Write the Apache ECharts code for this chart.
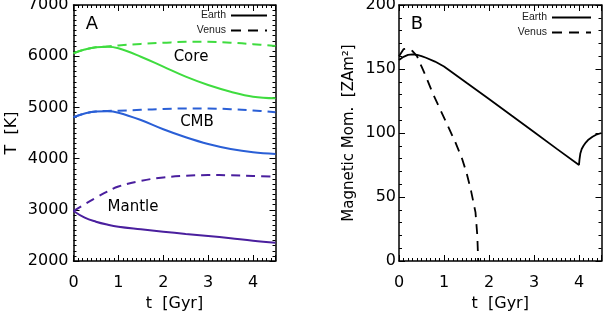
<!DOCTYPE html>
<html><head><meta charset="utf-8">
<script src="https://cdn.jsdelivr.net/npm/echarts@6/dist/echarts.min.js"></script>
<style>html,body{margin:0;padding:0;background:#fff}#c{width:603px;height:311px}</style>
</head><body><div id="c"></div>
<script>
// Panel A: temperatures [K] vs time [Gyr]
const tA          = [0, 0.25, 0.5, 0.75, 1, 1.5, 2, 2.5, 3, 3.5, 4, 4.5];
const coreEarth   = [6057, 6130, 6175, 6183, 6154, 5990, 5795, 5600, 5437, 5307, 5209, 5178];
const coreVenus   = [6057, 6130, 6175, 6190, 6210, 6240, 6262, 6280, 6280, 6265, 6235, 6200];
const cmbEarth    = [4807, 4880, 4920, 4925, 4897, 4754, 4573, 4417, 4285, 4188, 4123, 4090];
const cmbVenus    = [4807, 4880, 4920, 4930, 4935, 4952, 4968, 4980, 4978, 4965, 4940, 4905];
const mantleEarth = [2977, 2846, 2768, 2712, 2670, 2620, 2573, 2528, 2489, 2444, 2397, 2358];
const mantleVenus = [2977, 3110, 3235, 3355, 3455, 3565, 3632, 3664, 3678, 3674, 3660, 3647];
// Panel B: magnetic moment [ZAm^2] vs time [Gyr]
const tEarthB = [0, 0.1, 0.2, 0.3, 0.4, 0.5, 0.6, 0.8, 1, 1.5, 2, 2.5, 3, 3.5, 4, 4.01, 4.03, 4.06, 4.1, 4.15, 4.2, 4.3, 4.4, 4.5];
const earthB  = [157, 159.5, 161, 161.5, 161, 160, 158.8, 155.8, 152, 139.2, 126.5, 113.6, 100.8, 87.8, 75, 79, 84, 87.5, 90, 92.5, 94.5, 97, 99, 100];
const tVenusB = [0, 0.1, 0.2, 0.3, 0.4, 0.5, 0.6, 0.75, 1, 1.25, 1.4, 1.5, 1.6, 1.7, 1.74, 1.76];
const venusB  = [160, 165.5, 166, 164, 160, 152, 144, 131, 112, 93, 80, 69, 55, 38, 20, 0];
const xTicksLabels = ['0', '1', '2', '3', '4'];
const panelLabels = ['A', 'B'];
const curveLabels = ['Core', 'CMB', 'Mantle'];

const FONT = 'DejaVu Sans';
const GREEN = '#3fdc3f', BLUE = '#2a5fd6', PURPLE = '#4a1f9e';
const pairs = (xs, ys) => xs.map((x, i) => [x, ys[i]]);

function xAx(grid, pos) {
  return {
    gridIndex: grid, type: 'value', min: 0, max: 4.5, interval: 1, position: pos,
    axisLine: {onZero: false, lineStyle: {color: '#000', width: 1.5}},
    axisTick: {inside: true, length: 6, lineStyle: {color: '#000', width: 1}},
    minorTick: {show: true, splitNumber: 10, length: 3, lineStyle: {color: '#000', width: 1}},
    splitLine: {show: false},
    axisLabel: pos === 'bottom' ? {show: true, showMaxLabel: false, margin: 14, fontSize: 16, color: '#000', fontFamily: FONT,
      formatter: v => Number.isInteger(v) && xTicksLabels[v] !== undefined ? xTicksLabels[v] : ''} : {show: false},
    name: pos === 'bottom' ? 't  [Gyr]' : '', nameLocation: 'middle', nameGap: 31,
    nameTextStyle: {fontSize: 16, color: '#000', fontFamily: FONT}
  };
}
function yAx(grid, pos, min, max, interval, minor, name, margin, gap, nameSize) {
  return {
    gridIndex: grid, type: 'value', min, max, interval, position: pos,
    axisLine: {show: true, onZero: false, lineStyle: {color: '#000', width: 1.5}},
    axisTick: {show: true, inside: true, length: 6, lineStyle: {color: '#000', width: 1}},
    minorTick: {show: true, splitNumber: minor, length: 3, lineStyle: {color: '#000', width: 1}},
    splitLine: {show: false},
    axisLabel: pos === 'left' ? {show: true, margin, fontSize: 16, color: '#000', fontFamily: FONT, formatter: v => String(v)} : {show: false},
    name: pos === 'left' ? name : '', nameLocation: 'middle', nameGap: gap,
    nameTextStyle: {fontSize: nameSize || 16, color: '#000', fontFamily: FONT}
  };
}
function line(name, xi, yi, data, color, dashed, width, smooth, dash) {
  return {
    name, type: 'line', xAxisIndex: xi, yAxisIndex: yi, data, symbol: 'none', showSymbol: false, smooth,
    lineStyle: {color, width, type: dashed ? dash : 'solid'}, itemStyle: {color}, z: 3
  };
}
const legendCommon = {
  data: ['Earth', 'Venus'], orient: 'vertical', align: 'right', itemHeight: 10, itemGap: 4, selectedMode: false,
  padding: 0,
  itemStyle: {opacity: 0, borderWidth: 0},
  textStyle: {fontSize: 10.5, fontFamily: 'Liberation Sans', color: '#222'}
};

const chart = echarts.init(document.getElementById('c'), null, {renderer: 'canvas'});
chart.setOption({
  animation: false,
  backgroundColor: '#fff',
  grid: [
    {left: 73.5, top: 5, width: 202, height: 256, outerBoundsMode: 'none', containLabel: false},
    {left: 399, top: 5, width: 202.5, height: 256, outerBoundsMode: 'none', containLabel: false}
  ],
  xAxis: [xAx(0, 'bottom'), xAx(0, 'top'), xAx(1, 'bottom'), xAx(1, 'top')],
  yAxis: [
    yAx(0, 'left', 2000, 7000, 1000, 10, 'T  [K]', 5, 54, 16),
    yAx(0, 'right', 2000, 7000, 1000, 10, '', 5, 0),
    yAx(1, 'left', 0, 200, 50, 5, 'Magnetic Mom.  [ZAm²]', 3, 42, 15),
    yAx(1, 'right', 0, 200, 50, 5, '', 3, 0)
  ],
  legend: [
    Object.assign({}, legendCommon, {right: 335, top: 10, itemWidth: 36}),
    Object.assign({}, legendCommon, {right: 11, top: 12, itemWidth: 39})
  ],
  graphic: [
    {type: 'text', x: 92, y: 24, style: {text: panelLabels[0], fontSize: 18, fontFamily: FONT, fill: '#000', align: 'center', verticalAlign: 'middle'}},
    {type: 'text', x: 417, y: 24, style: {text: panelLabels[1], fontSize: 18, fontFamily: FONT, fill: '#000', align: 'center', verticalAlign: 'middle'}},
    {type: 'text', x: 191, y: 57, style: {text: curveLabels[0], fontSize: 15, fontFamily: FONT, fill: '#000', align: 'center', verticalAlign: 'middle'}},
    {type: 'text', x: 197, y: 122, style: {text: curveLabels[1], fontSize: 15, fontFamily: FONT, fill: '#000', align: 'center', verticalAlign: 'middle'}},
    {type: 'text', x: 133, y: 207, style: {text: curveLabels[2], fontSize: 15, fontFamily: FONT, fill: '#000', align: 'center', verticalAlign: 'middle'}}
  ],
  series: [
    line('Core Venus', 0, 0, pairs(tA, coreVenus), GREEN, true, 2, 0.4, [9, 6]),
    line('Core Earth', 0, 0, pairs(tA, coreEarth), GREEN, false, 2, 0.4),
    line('CMB Venus', 0, 0, pairs(tA, cmbVenus), BLUE, true, 2, 0.4, [9, 6]),
    line('CMB Earth', 0, 0, pairs(tA, cmbEarth), BLUE, false, 2, 0.4),
    line('Mantle Venus', 0, 0, pairs(tA, mantleVenus), PURPLE, true, 2, 0.4, [9, 6]),
    line('Mantle Earth', 0, 0, pairs(tA, mantleEarth), PURPLE, false, 2, 0.4),
    line('Earth', 2, 2, pairs(tEarthB, earthB), '#000', false, 1.8, false),
    line('Venus', 2, 2, pairs(tVenusB, venusB), '#000', true, 1.8, false, [10, 7])
  ]
});
</script></body></html>
